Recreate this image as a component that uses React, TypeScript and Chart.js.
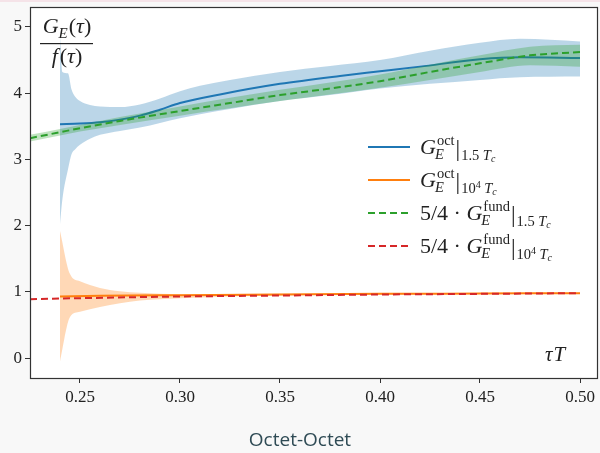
import { useEffect, useRef } from "react";
import { Chart, registerables } from "chart.js";

Chart.register(...registerables);

const SERIF = '"Liberation Serif", "DejaVu Serif", serif';
const INK = "#222222";

// G_E^oct at 1.5 T_c : central curve and error band
const blueTau = [0.24, 0.25, 0.26, 0.27, 0.28, 0.29, 0.3, 0.32, 0.35, 0.38, 0.4, 0.42, 0.45, 0.47, 0.5];
const blueMean = [3.53, 3.54, 3.56, 3.6, 3.66, 3.75, 3.85, 3.98, 4.14, 4.26, 4.33, 4.4, 4.51, 4.54, 4.53];
const blueBandTau = [0.24, 0.2412, 0.244, 0.2458, 0.2475, 0.25, 0.255, 0.26, 0.27, 0.28, 0.29, 0.3, 0.31, 0.325, 0.35, 0.375, 0.4, 0.425, 0.45, 0.47, 0.5];
const blueUpper = [4.85, 4.32, 4.3, 4.05, 3.95, 3.88, 3.82, 3.8, 3.79, 3.83, 3.92, 4.03, 4.11, 4.2, 4.32, 4.41, 4.5, 4.64, 4.76, 4.82, 4.78];
const blueLower = [2.02, 2.4, 2.85, 3.08, 3.15, 3.22, 3.31, 3.37, 3.43, 3.48, 3.55, 3.62, 3.68, 3.76, 3.88, 3.97, 4.07, 4.14, 4.2, 4.24, 4.25];

// G_E^oct at 10^4 T_c
const orangeTau = [0.24, 0.26, 0.3, 0.35, 0.4, 0.45, 0.5];
const orangeMean = [0.93, 0.94, 0.95, 0.96, 0.97, 0.975, 0.98];
const orangeBandTau = [0.24, 0.245, 0.25, 0.26, 0.27, 0.28, 0.29, 0.3, 0.35, 0.4, 0.45, 0.5];
const orangeUpper = [1.92, 1.27, 1.16, 1.06, 1.01, 0.985, 0.97, 0.965, 0.97, 0.975, 0.98, 0.985];
const orangeLower = [-0.05, 0.62, 0.7, 0.77, 0.83, 0.87, 0.89, 0.905, 0.945, 0.96, 0.97, 0.975];

// 5/4 G_E^fund at 1.5 T_c
const greenTau = [0.225, 0.24, 0.25, 0.27, 0.3, 0.325, 0.35, 0.375, 0.4, 0.425, 0.45, 0.475, 0.5];
const greenMean = [3.32, 3.41, 3.47, 3.58, 3.73, 3.85, 3.97, 4.07, 4.18, 4.32, 4.45, 4.57, 4.62];
const greenUpper = [3.37, 3.46, 3.52, 3.64, 3.8, 3.93, 4.05, 4.16, 4.28, 4.43, 4.57, 4.7, 4.73];
const greenLower = [3.27, 3.36, 3.42, 3.52, 3.66, 3.77, 3.88, 3.98, 4.08, 4.2, 4.32, 4.42, 4.4];

// 5/4 G_E^fund at 10^4 T_c
const redTau = [0.225, 0.25, 0.3, 0.35, 0.4, 0.45, 0.5];
const redMean = [0.89, 0.905, 0.93, 0.945, 0.96, 0.97, 0.98];

const xTicks = [0.25, 0.3, 0.35, 0.4, 0.45, 0.5];
const yTicks = [0, 1, 2, 3, 4, 5];

const BLUE = "#1f77b4";
const ORANGE = "#ff7f0e";
const GREEN = "#2ca02c";
const RED = "#d62728";
const BAND_ALPHA = 0.3;

const legendEntries = [
  { color: BLUE, dashed: false, prefix: "", sup: "oct", temp: "1.5" },
  { color: ORANGE, dashed: false, prefix: "", sup: "oct", temp: "1e4" },
  { color: GREEN, dashed: true, prefix: "5/4 · ", sup: "fund", temp: "1.5" },
  { color: RED, dashed: true, prefix: "5/4 · ", sup: "fund", temp: "1e4" },
];

const DASH = [7, 4];

function pts(xs: number[], ys: number[]) {
  return xs.map((x, i) => ({ x, y: ys[i] }));
}

function rgba(hex: string, a: number) {
  const n = parseInt(hex.slice(1), 16);
  return `rgba(${(n >> 16) & 255},${(n >> 8) & 255},${n & 255},${a})`;
}

function txt(ctx: CanvasRenderingContext2D, s: string, x: number, y: number, size: number, italic = false) {
  ctx.font = `${italic ? "italic " : ""}${size}px ${SERIF}`;
  ctx.fillText(s, x, y);
  return x + ctx.measureText(s).width;
}

function drawLegendLabel(ctx: CanvasRenderingContext2D, x: number, y: number, e: (typeof legendEntries)[number]) {
  if (e.prefix) x = txt(ctx, e.prefix, x, y, 22);
  x = txt(ctx, "G", x, y, 22, true);
  const a = txt(ctx, e.sup, x + 1, y - 9, 14.5);
  const b = txt(ctx, "E", x - 1, y + 5, 14.5, true);
  x = Math.max(a, b) + 1;
  x = txt(ctx, "|", x, y + 2, 23) + 1;
  if (e.temp === "1.5") {
    x = txt(ctx, "1.5", x, y + 6, 14.5);
  } else {
    x = txt(ctx, "10", x, y + 6, 14.5);
    x = txt(ctx, "4", x, y + 1, 10);
  }
  x += 3.5;
  x = txt(ctx, "T", x, y + 6, 14.5, true);
  txt(ctx, "c", x, y + 8, 10, true);
}

const decorations = {
  id: "decorations",
  beforeDraw(chart: Chart) {
    const { ctx, chartArea: a } = chart;
    ctx.save();
    ctx.fillStyle = "#ffffff";
    ctx.fillRect(a.left, a.top, a.right - a.left, a.bottom - a.top);
    ctx.restore();
  },
  afterDraw(chart: Chart) {
    const { ctx, chartArea: a } = chart;
    ctx.save();
    // frame
    ctx.strokeStyle = "#333333";
    ctx.lineWidth = 1.2;
    ctx.strokeRect(Math.round(a.left) + 0.5, Math.round(a.top) + 0.5, Math.round(a.right - a.left) - 1, Math.round(a.bottom - a.top));

    ctx.fillStyle = INK;
    ctx.textBaseline = "alphabetic";
    ctx.textAlign = "left";

    // y label as a fraction
    const cx = a.left + 37;
    ctx.font = `italic 22px ${SERIF}`;
    const wG = ctx.measureText("G").width;
    ctx.font = `italic 15px ${SERIF}`;
    const wE = ctx.measureText("E").width;
    ctx.font = `22px ${SERIF}`;
    const wP = ctx.measureText("()").width;
    ctx.font = `italic 22px ${SERIF}`;
    const wT = ctx.measureText("τ").width;
    const numW = wG + wE + wP + wT + 1;
    let x = cx - numW / 2;
    const ny = a.top + 26;
    x = txt(ctx, "G", x, ny, 22, true);
    x = txt(ctx, "E", x, ny + 5, 15, true) + 1;
    x = txt(ctx, "(", x, ny, 22);
    x = txt(ctx, "τ", x, ny, 22, true);
    txt(ctx, ")", x, ny, 22);
    ctx.fillRect(a.left + 10, a.top + 36, 53, 1.2);
    ctx.font = `italic 22px ${SERIF}`;
    const wf = ctx.measureText("f").width;
    const denW = wf + wP + wT + 2;
    x = cx - denW / 2;
    const dy = a.top + 56;
    x = txt(ctx, "f", x, dy, 22, true) + 2;
    x = txt(ctx, "(", x, dy, 22);
    x = txt(ctx, "τ", x, dy, 22, true);
    txt(ctx, ")", x, dy, 22);

    // x label inside the frame
    const tx = txt(ctx, "τ", a.right - 53, a.bottom - 17, 21, true);
    txt(ctx, "T", tx + 1, a.bottom - 17, 21, true);

    // legend
    const lx0 = 368;
    const lx1 = 410;
    legendEntries.forEach((e, i) => {
      const ry = 147 + i * 33;
      ctx.save();
      ctx.strokeStyle = e.color;
      ctx.lineWidth = 2;
      ctx.setLineDash(e.dashed ? DASH : []);
      ctx.beginPath();
      ctx.moveTo(lx0, ry);
      ctx.lineTo(lx1, ry);
      ctx.stroke();
      ctx.restore();
      drawLegendLabel(ctx, 420, ry + 7, e);
    });
    ctx.restore();
  },
};

function band(tau: number[], lower: number[], upper: number[], color: string, targetIndex: number, order: number) {
  return [
    {
      data: pts(tau, lower),
      borderColor: "rgba(0,0,0,0)",
      borderWidth: 0,
      pointRadius: 0,
      fill: false,
      order,
    },
    {
      data: pts(tau, upper),
      borderColor: "rgba(0,0,0,0)",
      borderWidth: 0,
      pointRadius: 0,
      backgroundColor: rgba(color, BAND_ALPHA),
      fill: { target: targetIndex, above: rgba(color, BAND_ALPHA), below: rgba(color, BAND_ALPHA) },
      order,
    },
  ];
}

function line(xs: number[], ys: number[], color: string, dashed: boolean, order: number) {
  return {
    data: pts(xs, ys),
    borderColor: color,
    borderWidth: 2,
    borderDash: dashed ? DASH : [],
    pointRadius: 0,
    fill: false,
    order,
  };
}

function fixAxis(scale: any, key: "width" | "height", size: number) {
  scale[key] = size;
  scale.paddingLeft = 0;
  scale.paddingRight = 0;
  scale.paddingTop = 0;
  scale.paddingBottom = 0;
}

export default function App() {
  const ref = useRef<HTMLCanvasElement | null>(null);

  useEffect(() => {
    if (!ref.current) return;
    const datasets: any[] = [
      ...band(blueBandTau, blueLower, blueUpper, BLUE, 0, 8),
      line(blueTau, blueMean, BLUE, false, 7),
      ...band(orangeBandTau, orangeLower, orangeUpper, ORANGE, 3, 6),
      line(orangeTau, orangeMean, ORANGE, false, 5),
      ...band(greenTau, greenLower, greenUpper, GREEN, 6, 4),
      line(greenTau, greenMean, GREEN, true, 3),
      line(redTau, redMean, RED, true, 2),
    ];
    const tickFont = { family: SERIF, size: 17 };
    const chart = new Chart(ref.current, {
      type: "line",
      data: { datasets },
      options: {
        animation: false,
        responsive: false,
        devicePixelRatio: 1,
        events: [],
        layout: { padding: { top: 7, right: 2, bottom: 35, left: 0 } },
        elements: { line: { cubicInterpolationMode: "monotone" } },
        plugins: {
          legend: { display: false },
          tooltip: { enabled: false },
          title: { display: false },
        },
        scales: {
          x: {
            type: "linear",
            min: 0.225,
            max: 0.509,
            afterBuildTicks: (s: any) => {
              s.ticks = xTicks.map((v) => ({ value: v }));
            },
            afterFit: (s: any) => fixAxis(s, "height", 40),
            ticks: {
              font: tickFont,
              color: INK,
              padding: 4,
              maxRotation: 0,
              autoSkip: false,
              callback: (v: any) => Number(v).toFixed(2),
            },
            grid: { display: true, drawOnChartArea: false, drawTicks: true, tickLength: 5, color: "#333333" },
            border: { display: false },
          },
          y: {
            type: "linear",
            min: -0.3,
            max: 5.3,
            afterBuildTicks: (s: any) => {
              s.ticks = yTicks.map((v) => ({ value: v }));
            },
            afterFit: (s: any) => fixAxis(s, "width", 30),
            ticks: {
              font: tickFont,
              color: INK,
              padding: 3,
              autoSkip: false,
              callback: (v: any) => String(v),
            },
            grid: { display: true, drawOnChartArea: false, drawTicks: true, tickLength: 5, color: "#333333" },
            border: { display: false },
          },
        },
      },
      plugins: [decorations],
    } as any);
    return () => chart.destroy();
  }, []);

  return (
    <div
      style={{
        position: "fixed",
        left: 0,
        top: 0,
        width: 600,
        height: 453,
        background: "#f8f8f8",
        overflow: "hidden",
      }}
    >
      <div style={{ position: "absolute", left: 0, top: 0, width: 600, height: 2, background: "#f5e3e8" }} />
      <canvas
        ref={ref}
        width={600}
        height={453}
        style={{ position: "absolute", left: 0, top: 0, width: 600, height: 453 }}
      />
      <div
        style={{
          position: "absolute",
          left: 0,
          top: 427,
          width: 600,
          textAlign: "center",
          fontFamily: '"Open Sans", sans-serif',
          fontSize: 19,
          color: "#2f4b55",
          lineHeight: "24px",
        }}
      >
        Octet-Octet
      </div>
    </div>
  );
}
